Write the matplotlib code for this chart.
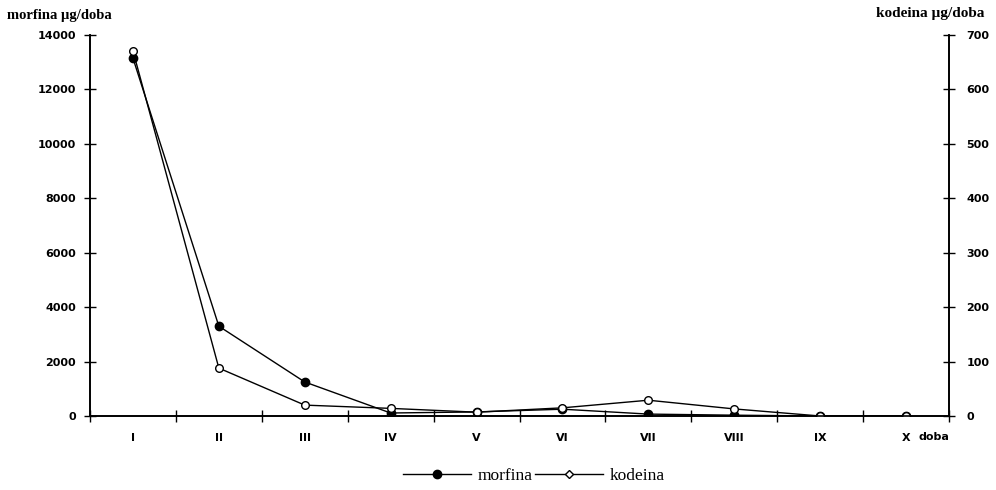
import numpy as np
import matplotlib.pyplot as plt
from matplotlib.lines import Line2D
from matplotlib.ticker import FixedLocator, NullFormatter

days = ['I', 'II', 'III', 'IV', 'V', 'VI', 'VII', 'VIII', 'IX', 'X']
morfina = [13150, 3300, 1250, 110, 150, 250, 70, 30, 0, 0]
kodeina = [671, 88, 20, 14, 7, 15, 29, 13, 0, 0]

fig = plt.figure(figsize=(9.96, 4.9), dpi=100)
ax = fig.add_axes([90/996, 1-416/490, (949-90)/996, (416-35)/490])
ax2 = ax.twinx()

x = np.arange(len(days))
ax.plot(x, morfina, color='black', lw=1, marker='o', ms=6, mfc='black', mec='black')
ax2.plot(x, kodeina, color='black', lw=1, marker='o', ms=5.5, mfc='white', mec='black', mew=1)

ax.set_xlim(-0.5, 9.5)
ax.set_ylim(0, 14000)
ax2.set_ylim(0, 700)
ax.set_yticks(np.arange(0, 14001, 2000))
ax2.set_yticks(np.arange(0, 701, 100))

tfont = dict(family='DejaVu Sans', weight='bold', size=8)
ax.set_yticklabels([str(v) for v in range(0, 14001, 2000)], **tfont)
ax2.set_yticklabels([str(v) for v in range(0, 701, 100)], **tfont)

ax.xaxis.set_major_locator(FixedLocator(np.arange(-0.5, 9.6, 1)))
ax.xaxis.set_major_formatter(NullFormatter())
ax.xaxis.set_minor_locator(FixedLocator(x))
ax.set_xticklabels(days, minor=True, **tfont)
ax.tick_params(axis='x', which='minor', length=0, pad=12)
ax.tick_params(axis='x', which='major', direction='inout', length=8, width=1)
ax.tick_params(axis='y', direction='inout', length=8, width=1, pad=6)
ax2.tick_params(axis='y', direction='inout', length=8, width=1, pad=8.5)

for a in (ax, ax2):
    a.spines['top'].set_visible(False)
    for s in a.spines.values():
        s.set_linewidth(1.2)

ax.text(9.33, -0.055, 'doba', transform=ax.get_xaxis_transform(), ha='center', va='center', **tfont)

fig.text(7/996, 1-15/490, 'morfina \u00b5g/doba', ha='left', va='center',
         family='Liberation Serif', weight='bold', size=10.5)
fig.text(984/996, 1-13/490, 'kodeina \u00b5g/doba', ha='right', va='center',
         family='Liberation Serif', weight='bold', size=11)

handles = [Line2D([], [], color='black', lw=1, marker='o', ms=6, mfc='black'),
           Line2D([], [], color='black', lw=1, marker='D', ms=4.5, mfc='white', mec='black')]
fig.legend(handles, ['morfina', 'kodeina'], loc='center', bbox_to_anchor=(534/996, 1-476/490), ncol=2,
           frameon=False, handlelength=3.9, columnspacing=0.1, handletextpad=0.4,
           prop=dict(family='Liberation Serif', size=12.5))

fig.savefig('out.png', dpi=100)
